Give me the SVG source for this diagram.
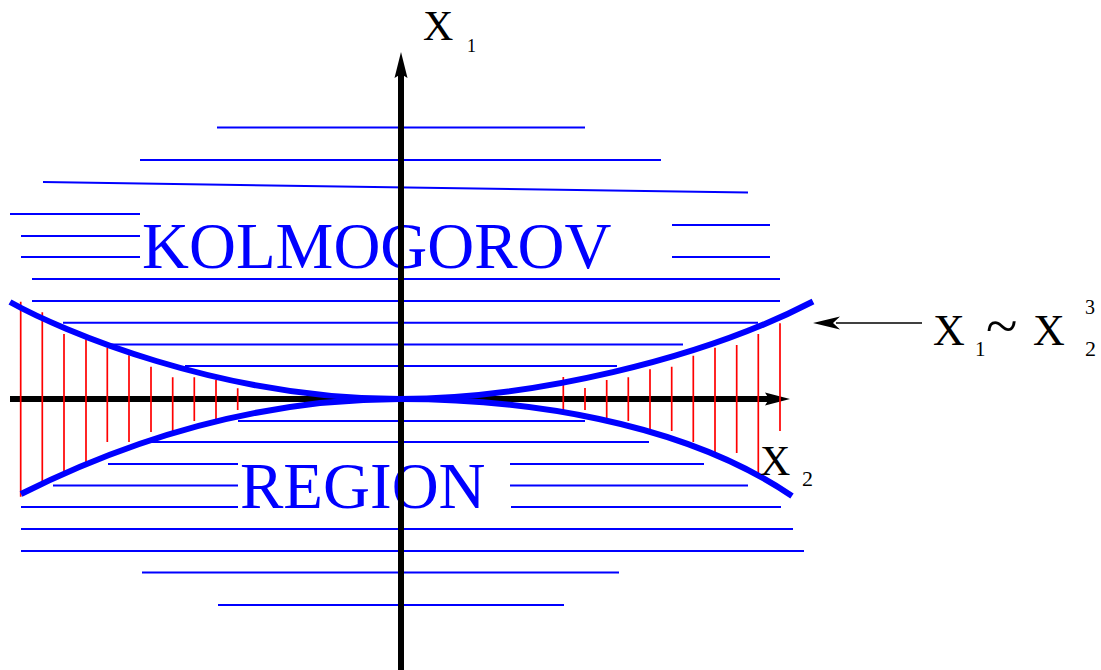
<svg xmlns="http://www.w3.org/2000/svg" width="1101" height="670" viewBox="0 0 1101 670">
<style>
.hl{stroke:#0000ff;stroke-width:2;fill:none}
.ax{stroke:#000;stroke-width:6;fill:none}
.rd{stroke:#ff0000;stroke-width:1.7;fill:none}
.cv{stroke:#0000ff;stroke-width:6;fill:none}
.big{font-family:"Liberation Serif","Times New Roman",serif;fill:#0000ff;font-size:65px}
.lab{font-family:"Liberation Serif","Times New Roman",serif;fill:#000}
</style>
<rect width="1101" height="670" fill="#fff"/>
<g id="hatch-lines">
<path class="hl" d="M217,127.5H585 M140,160H661 M43,182L748,192.5 M10,214H140 M672,225H770 M21,236H140 M21,257H140 M672,257H770 M32,279H780 M32,301H780 M63,322.7H758 M110,344.5H683 M185,366H617 M238,421H585 M150,442H649 M108,464H238 M510,464H704 M53,485.5H238 M510,485.5H748 M21,507H238 M511,507H781 M21,529H793 M21,551H804 M142,572.5H619 M218,605H564"/>
</g>
<g id="region-labels">
<text class="big" x="142" y="268">KOLMOGOROV</text>
<text class="big" x="240" y="508">REGION</text>
</g>
<g id="axes">
<path class="ax" d="M10,399H770"/>
<path d="M790,399L765,392.5L769,399L765,405.5Z" fill="#000"/>
<path class="ax" d="M401,670V72"/>
<path d="M401,52L394.5,78L401,74L407.5,78Z" fill="#000"/>
</g>
<g id="red-hatch">
<path class="rd" d="M20.7,301.7V496.7 M42.3,312.3V485 M64,334V475 M86,339.3V463 M107.3,347.7V442 M129,355.3V442 M151,366.7V432 M172.7,377.3V432 M194.3,377.3V421 M216,380V421 M237.7,388.3V410 M563.3,377V410 M585,388V410 M606.7,380V421 M628.3,377.3V421 M650,369.3V431 M671.7,366.7V431 M693.3,355.7V442 M715,347.7V453 M736.7,345V453 M758.3,334V475 M780,323.3V431"/>
</g>
<g id="curves">
<path class="cv" d="M10,302C60,330 220,399 400,399C530,399 700,360 813,301.5"/>
<path class="cv" d="M21,494Q210.5,399 400,399C520,399 680,420 792,496"/>
</g>
<g id="label-x1">
<text class="lab" x="423" y="40" font-size="42">X</text>
<text class="lab" x="467" y="52" font-size="18">1</text>
</g>
<g id="label-x2">
<text class="lab" x="760" y="475" font-size="42">X</text>
<text class="lab" x="802" y="486" font-size="22">2</text>
</g>
<g id="connectors">
<path d="M922,323H836" stroke="#000" stroke-width="1.6" fill="none"/>
<path d="M813,323L840,316.5L833,323L840,329.5Z" fill="#000"/>
</g>
<g id="formula">
<text class="lab" x="933" y="345" font-size="44">X</text>
<text class="lab" x="975" y="356" font-size="21">1</text>
<text class="lab" x="986" y="345" font-size="58">~</text>
<text class="lab" x="1033" y="345" font-size="44">X</text>
<text class="lab" x="1085" y="313.5" font-size="20">3</text>
<text class="lab" x="1085" y="356" font-size="22">2</text>
</g>
</svg>
